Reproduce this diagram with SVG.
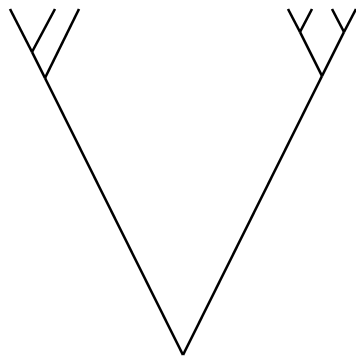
<svg xmlns="http://www.w3.org/2000/svg" width="356" height="360" viewBox="0 0 356 360">
<style>.e{stroke:#000;stroke-width:2.6;fill:none;stroke-linecap:butt}</style>
<rect width="356" height="360" fill="#fff"/>
<g id="connectors">
<line class="e" x1="183" y1="355" x2="45" y2="78"/>
<line class="e" x1="45" y1="78" x2="32" y2="52"/>
<line class="e" x1="45" y1="78" x2="79" y2="9"/>
<line class="e" x1="32" y1="52" x2="10" y2="9"/>
<line class="e" x1="32" y1="52" x2="55" y2="9"/>
<line class="e" x1="183" y1="355" x2="322" y2="76"/>
<line class="e" x1="322" y1="76" x2="300" y2="32"/>
<line class="e" x1="322" y1="76" x2="344" y2="32"/>
<line class="e" x1="300" y1="32" x2="288" y2="9"/>
<line class="e" x1="300" y1="32" x2="312" y2="9"/>
<line class="e" x1="344" y1="32" x2="332" y2="9"/>
<line class="e" x1="344" y1="32" x2="356" y2="9"/>
</g>
</svg>
